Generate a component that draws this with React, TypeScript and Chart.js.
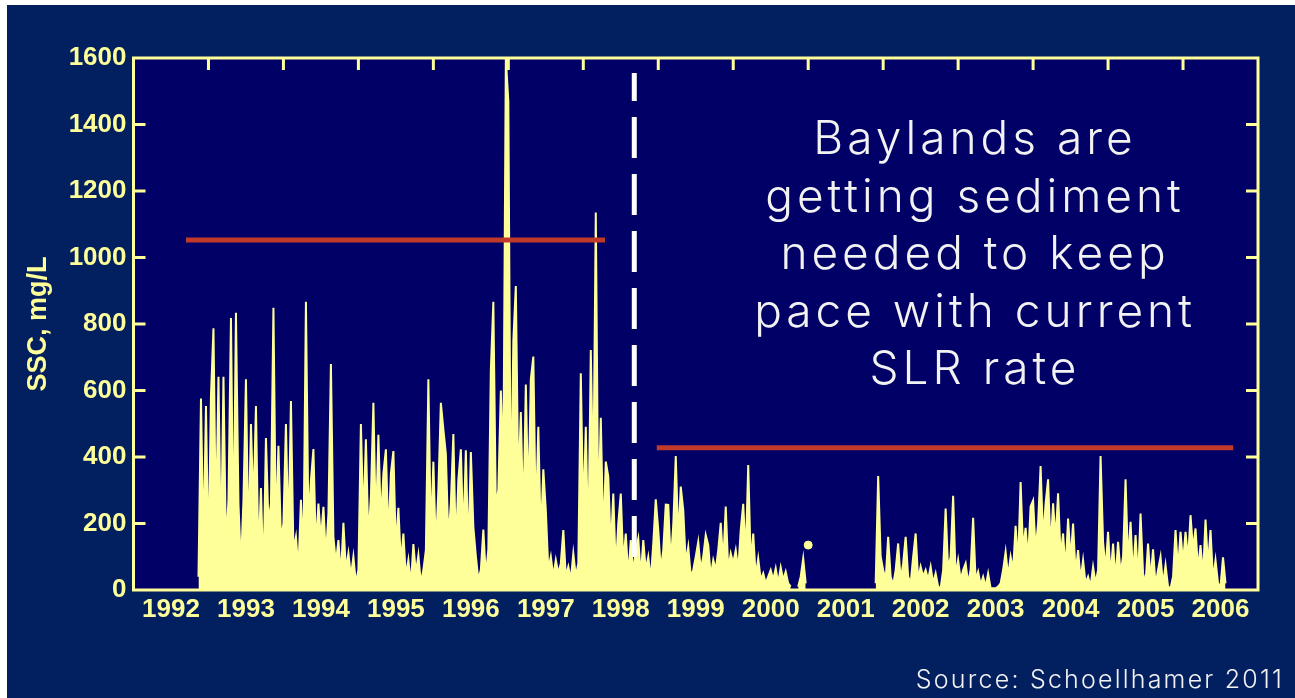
import React, { useEffect, useRef } from "react";
import { Chart, registerables } from "chart.js";

Chart.register(...registerables);

const N = null;

// Sampling: 30 samples per year, year Y sample k at Y + k/30
const SAMPLES_PER_YEAR = 30;
const YEARS = [1992, 1993, 1994, 1995, 1996, 1997, 1998, 1999, 2000, 2001, 2002, 2003, 2004, 2005, 2006];

const ssc1992 = [N, N, N, N, N, N, N, N, N, N, N, N, N, N, N, N, N, N, N, N, N, N, N, N, N, N, 40, 576, 120, 553];
const ssc1993 = [80, 586, 787, 180, 641, 90, 641, 130, 270, 818, 120, 834, 260, 70, 270, 634, 120, 499, 240, 553, 90, 307, 30, 457, 200, 260, 849, 160, 434, 150];
const ssc1994 = [200, 499, 150, 568, 120, 160, 60, 271, 100, 867, 200, 330, 424, 120, 260, 150, 250, 100, 230, 680, 160, 80, 150, 40, 202, 60, 110, 40, 100, 20];
const ssc1995 = [60, 499, 200, 453, 150, 280, 563, 180, 467, 200, 350, 423, 150, 350, 418, 120, 247, 80, 170, 40, 90, 15, 138, 50, 105, 20, 60, 120, 634, 150];
const ssc1996 = [386, 120, 302, 563, 483, 409, 150, 260, 469, 120, 332, 423, 150, 420, 100, 415, 190, 102, 30, 60, 182, 40, 122, 662, 867, 250, 300, 600, 359, 1600];
const ssc1997 = [1470, 200, 750, 914, 300, 535, 200, 618, 250, 634, 702, 200, 491, 150, 363, 240, 60, 100, 40, 90, 50, 80, 180, 40, 70, 30, 110, 40, 80, 652];
const ssc1998 = [215, 491, 120, 722, 300, 1135, 200, 518, 150, 386, 341, 120, 290, 60, 200, 290, 80, 170, 40, 150, 50, 120, 155, 40, 150, 60, 100, 30, 140, 273];
const ssc1999 = [180, 60, 120, 257, 256, 80, 195, 403, 150, 311, 240, 80, 130, 40, 60, 100, 145, 60, 100, 165, 135, 40, 90, 60, 120, 202, 80, 251, 60, 110];
const ssc2000 = [80, 120, 60, 180, 259, 100, 376, 80, 170, 40, 95, 30, 50, 20, 40, 60, 30, 65, 20, 68, 30, 55, 20, 10, N, N, 10, 40, 95, 20];
const ssc2001 = [N, N, N, N, N, N, N, N, N, N, N, N, N, N, N, N, N, N, N, N, N, N, N, N, N, N, N, 20, 343, 100];
const ssc2002 = [60, 30, 160, 40, 15, 60, 140, 30, 80, 160, 40, 20, 100, 170, 30, 70, 40, 60, 30, 70, 20, 50, 10, 5, 60, 245, 60, 100, 283, 40];
const ssc2003 = [90, 30, 60, 80, 20, 60, 217, 30, 55, 15, 40, 10, 50, 5, 5, 5, 10, 20, 60, 115, 40, 100, 60, 193, 80, 325, 120, 187, 90, 251];
const ssc2004 = [269, 120, 200, 373, 150, 261, 333, 120, 261, 150, 291, 100, 170, 60, 215, 90, 200, 50, 120, 30, 90, 20, 40, 10, 70, 20, 60, 403, 145, 60];
const ssc2005 = [175, 40, 140, 30, 145, 50, 100, 333, 80, 205, 40, 165, 30, 230, 50, 20, 140, 30, 122, 15, 60, 100, 15, 75, 10, 5, 40, 180, 60, 175];
const ssc2006 = [80, 175, 90, 225, 120, 185, 60, 135, 40, 212, 70, 180, 30, 90, 20, 10, 98, 20, N, N, N, N, N, N, N, N, N, N, N, N];

const SSC_BY_YEAR = [ssc1992, ssc1993, ssc1994, ssc1995, ssc1996, ssc1997, ssc1998, ssc1999, ssc2000, ssc2001, ssc2002, ssc2003, ssc2004, ssc2005, ssc2006];

// Isolated sample
const isolatedYear = [2001.0];
const isolatedValue = [135];

// Reference levels (red lines)
const preLevelYears = [1992.7, 1998.29];
const preLevelValue = 1053;
const postLevelYears = [1998.98, 2006.67];
const postLevelValue = 428;

// Divider (white dashed)
const dividerYear = 1998.68;
const dividerRange = [1555, 99];

const Y_TICKS = [0, 200, 400, 600, 800, 1000, 1200, 1400, 1600];
const X_MIN = 1992;
const X_MAX = 2007;

const annotationLines = ["Baylands are", "getting sediment", "needed to keep", "pace with current", "SLR rate"];
const sourceText = "Source: Schoellhamer 2011";
const yTitle = "SSC, mg/L";

const YELLOW = "#ffff99";
const RED = "#c0392b";
const OUTER_BG = "#022060";
const PLOT_BG = "#000066";
const FONT = "'Liberation Sans', Arial, Helvetica, sans-serif";

export default function App() {
  const ref = useRef<HTMLCanvasElement>(null);

  useEffect(() => {
    const sscPoints: { x: number; y: number | null }[] = [];
    SSC_BY_YEAR.forEach((arr, yi) => {
      arr.forEach((v, k) => {
        sscPoints.push({ x: YEARS[yi] + k / SAMPLES_PER_YEAR, y: v });
      });
    });

    const frame = {
      id: "frame",
      beforeDraw(chart: any) {
        const { ctx, chartArea: a } = chart;
        ctx.save();
        ctx.fillStyle = PLOT_BG;
        ctx.fillRect(a.left, a.top, a.right - a.left, a.bottom - a.top);
        ctx.restore();
      },
      afterDatasetsDraw(chart: any) {
        const { ctx, chartArea: a, scales } = chart;
        const xs = scales.x;
        const ys = scales.y;
        ctx.save();
        ctx.strokeStyle = YELLOW;
        ctx.lineWidth = 3;
        const L = 12;
        ctx.beginPath();
        for (let yr = X_MIN + 1; yr < X_MAX; yr++) {
          const px = xs.getPixelForValue(yr);
          ctx.moveTo(px, a.top);
          ctx.lineTo(px, a.top + L);
        }
        Y_TICKS.slice(1, -1).forEach((v) => {
          const py = ys.getPixelForValue(v);
          ctx.moveTo(a.left, py);
          ctx.lineTo(a.left + L, py);
          ctx.moveTo(a.right, py);
          ctx.lineTo(a.right - L, py);
        });
        ctx.stroke();
        ctx.strokeRect(a.left, a.top, a.right - a.left, a.bottom - a.top);
        ctx.restore();
      },
    };

    const chart = new Chart(ref.current!, {
      type: "line",
      data: {
        datasets: [
          {
            label: "divider",
            data: [
              { x: dividerYear, y: dividerRange[0] },
              { x: dividerYear, y: dividerRange[1] },
            ],
            borderColor: "#ffffff",
            borderWidth: 5,
            borderDash: [41, 16],
            borderDashOffset: 13,
            borderCapStyle: "butt",
            pointRadius: 0,
            fill: false,
            order: 0,
          },
          {
            label: "pre",
            data: preLevelYears.map((x) => ({ x, y: preLevelValue })),
            borderColor: RED,
            borderWidth: 5,
            borderCapStyle: "butt",
            pointRadius: 0,
            fill: false,
            order: 1,
          },
          {
            label: "post",
            data: postLevelYears.map((x) => ({ x, y: postLevelValue })),
            borderColor: RED,
            borderWidth: 5,
            borderCapStyle: "butt",
            pointRadius: 0,
            fill: false,
            order: 1,
          },
          {
            label: "SSC",
            data: sscPoints,
            borderColor: YELLOW,
            backgroundColor: YELLOW,
            borderWidth: 2,
            pointRadius: 0,
            tension: 0,
            fill: "origin",
            spanGaps: false,
            order: 2,
          },
          {
            label: "isolated",
            data: isolatedYear.map((x, i) => ({ x, y: isolatedValue[i] })),
            showLine: false,
            pointRadius: 4,
            pointBackgroundColor: YELLOW,
            pointBorderColor: YELLOW,
            fill: false,
            order: 2,
          },
        ] as any,
      },
      options: {
        animation: false,
        responsive: false,
        events: [],
        layout: { padding: { top: 53, right: 37, bottom: 68, left: 0 } },
        plugins: { legend: { display: false }, tooltip: { enabled: false } },
        scales: {
          x: {
            type: "linear",
            min: X_MIN,
            max: X_MAX,
            grid: { display: false, drawTicks: false },
            border: { display: false },
            afterBuildTicks(scale: any) {
              scale.ticks = YEARS.map((y) => ({ value: y + 0.5 }));
            },
            afterFit(scale: any) {
              scale.height = 40;
            },
            ticks: {
              autoSkip: false,
              maxRotation: 0,
              minRotation: 0,
              padding: 4,
              color: YELLOW,
              font: { family: FONT, size: 26, weight: "bold" },
              callback: (v: any) => String(Math.floor(Number(v))),
            },
          },
          y: {
            type: "linear",
            min: 0,
            max: 1600,
            grid: { display: false, drawTicks: false },
            border: { display: false },
            afterBuildTicks(scale: any) {
              scale.ticks = Y_TICKS.map((v) => ({ value: v }));
            },
            afterFit(scale: any) {
              scale.width = 126.5;
            },
            ticks: {
              padding: 7,
              color: YELLOW,
              font: { family: FONT, size: 26, weight: "bold" },
              callback: (v: any) => String(v),
            },
            title: {
              display: true,
              text: yTitle,
              color: YELLOW,
              padding: { top: 15, bottom: 0 },
              font: { family: FONT, size: 27, weight: "bold" },
            },
          },
        },
      },
      plugins: [frame],
    } as any);
    return () => chart.destroy();
  }, []);

  return (
    <div
      style={{
        position: "fixed",
        left: 7,
        top: 5,
        width: 1288,
        height: 693,
        background: OUTER_BG,
        overflow: "hidden",
      }}
    >
      <canvas ref={ref} width={1288} height={693} style={{ position: "absolute", left: 0, top: 0 }} />
      <div
        style={{
          position: "absolute",
          left: 666,
          top: 104,
          width: 600,
          textAlign: "center",
          color: "#f2f2f2",
          fontFamily: "Inter, 'Open Sans', sans-serif",
          fontWeight: 300,
          fontSize: 46,
          lineHeight: "57.5px",
          letterSpacing: "4px",
          paddingLeft: 4,
          boxSizing: "border-box",
        }}
      >
        {annotationLines.map((l, i) => (
          <div key={i}>{l}</div>
        ))}
      </div>
      <div
        style={{
          position: "absolute",
          right: 11,
          top: 659,
          color: "#f2f2f2",
          fontFamily: "Inter, 'Open Sans', sans-serif",
          fontWeight: 300,
          fontSize: 25,
          lineHeight: "30px",
          letterSpacing: "2.2px",
          whiteSpace: "nowrap",
        }}
      >
        {sourceText}
      </div>
    </div>
  );
}
